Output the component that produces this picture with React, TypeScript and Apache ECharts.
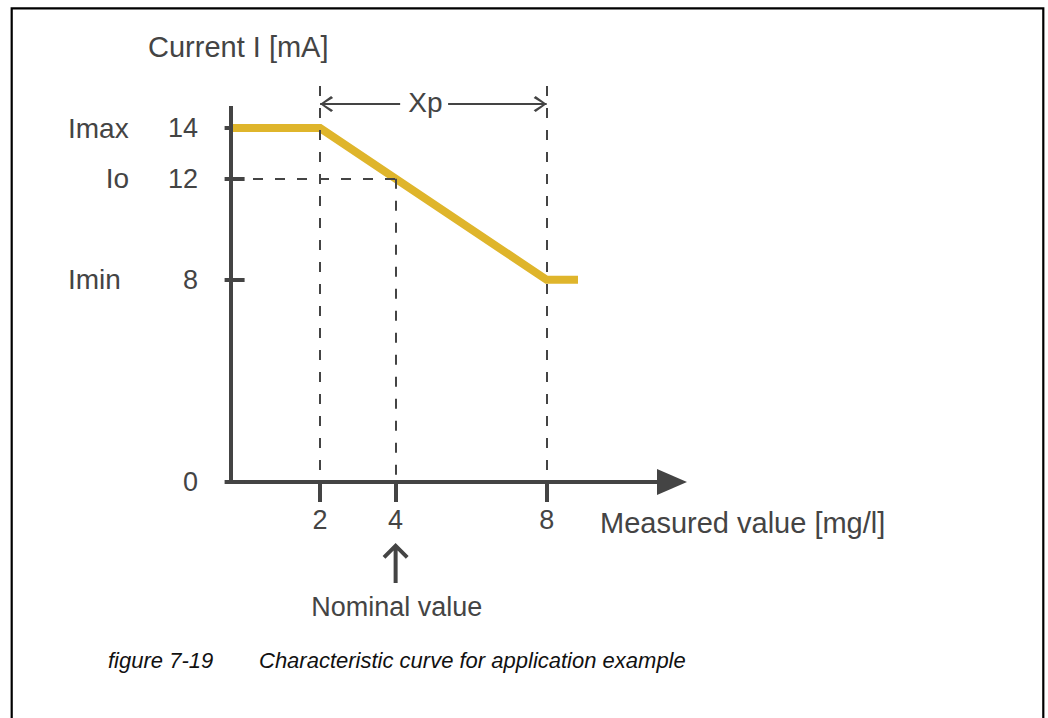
import React, { useEffect, useRef } from 'react';
import * as echarts from 'echarts';

// ---- data ----
const xMin = -0.36;
const xMax = 11.32;
const yMin = 0;
const yMax = 18;
const curveData: [number, number][] = [
  [-0.36, 14],
  [2, 14],
  [8, 8],
  [8.83, 8],
];
const yTickValues = [0, 8, 12, 14];
const xTickValues = [2, 4, 8];
const levelLabels = ['Imax', 'Io', 'Imin'];
const levelValues = [14, 12, 8];
const xpStart = 2;
const xpEnd = 8;
const nominalValue = 4;
const nominalCurrent = 12;
const yAxisTop = 14.87;
const guideTop = 15.67;
const xpLevel = 14.95;

const FONT = "'Liberation Sans', Arial, Helvetica, sans-serif";
const INK = '#444444';
const CURVE = '#DFB52B';

const chevronLeft = 'path://M0,8 L11,0 L13,1.8 L3,8 L13,14.2 L11,16 Z';
const chevronRight = 'path://M13,8 L2,0 L0,1.8 L10,8 L0,14.2 L2,16 Z';
const upArrow = 'path://M13,0 L26,13 L23.2,15.8 L15,7.6 L15,40 L11,40 L11,7.6 L2.8,15.8 L0,13 Z';

export default function App() {
  const ref = useRef<HTMLDivElement>(null);
  useEffect(() => {
    document.body.style.margin = '0';
    if (!ref.current) return;
    const chart = echarts.init(ref.current, null, { renderer: 'svg' });

    const dashed = { type: [10, 12] as any, width: 2, color: INK };
    const solidThin = { type: 'solid' as any, width: 2, color: INK };

    const annotations = [
      { name: 'Current I [mA]', value: [-2.558, 17.21], pos: 'right', size: 29 },
      { name: levelLabels[0], value: [-4.677, levelValues[0]], pos: 'right', size: 28 },
      { name: levelLabels[1], value: [-3.061, levelValues[1]], pos: 'left', size: 28 },
      { name: levelLabels[2], value: [-4.677, levelValues[2]], pos: 'right', size: 28 },
      { name: 'Xp', value: [(xpStart + xpEnd) / 2 - 0.21, 15.03], pos: 'inside', size: 28 },
      { name: 'Measured value [mg/l]', value: [9.413, -1.62], pos: 'right', size: 29 },
      { name: 'Nominal value', value: [nominalValue + 0.03, -4.96], pos: 'inside', size: 27 },
    ];

    chart.setOption({
      animation: false,
      backgroundColor: '#ffffff',
      grid: { left: 231, top: 27, width: 441, height: 455 },
      xAxis: {
        type: 'value',
        min: xMin,
        max: xMax,
        splitLine: { show: false },
        axisLine: {
          show: true,
          onZero: false,
          lineStyle: { color: INK, width: 4 },
          symbol: ['none', 'triangle'],
          symbolSize: [26, 30],
        },
        axisTick: {
          show: true,
          customValues: xTickValues,
          length: 20,
          lineStyle: { color: INK, width: 4 },
        },
        axisLabel: {
          show: true,
          customValues: xTickValues,
          fontSize: 27,
          fontFamily: FONT,
          color: INK,
          margin: 24,
        },
      },
      yAxis: {
        type: 'value',
        min: yMin,
        max: yMax,
        splitLine: { show: false },
        axisLine: { show: false },
        axisTick: {
          show: true,
          customValues: yTickValues,
          length: 20,
          lineStyle: { color: INK, width: 4 },
        },
        axisLabel: {
          show: true,
          customValues: yTickValues,
          fontSize: 27,
          fontFamily: FONT,
          color: INK,
          margin: 33,
        },
      },
      series: [
        {
          type: 'line',
          data: curveData,
          symbol: 'none',
          z: 2,
          lineStyle: { color: CURVE, width: 8, join: 'miter' },
          markLine: {
            silent: true,
            symbol: ['none', 'none'],
            label: { show: false },
            animation: false,
            data: [
              [
                { coord: [xMin, 0], lineStyle: { type: 'solid', width: 4, color: INK } },
                { coord: [xMin, yAxisTop] },
              ],
              [{ coord: [xpStart, guideTop], lineStyle: dashed }, { coord: [xpStart, 0] }],
              [{ coord: [xpEnd, guideTop], lineStyle: dashed }, { coord: [xpEnd, 0] }],
              [{ coord: [nominalValue, nominalCurrent], lineStyle: dashed }, { coord: [nominalValue, 0] }],
              [{ coord: [xMin, nominalCurrent], lineStyle: dashed }, { coord: [nominalValue, nominalCurrent] }],
              [{ coord: [xpStart, xpLevel], lineStyle: solidThin }, { coord: [4.12, xpLevel] }],
              [{ coord: [5.39, xpLevel], lineStyle: solidThin }, { coord: [xpEnd, xpLevel] }],
            ],
          },
        },
        {
          type: 'scatter',
          clip: false,
          z: 6,
          itemStyle: { color: INK, opacity: 1 },
          data: [
            { value: [xpStart, xpLevel], symbol: chevronLeft, symbolSize: [13, 16], symbolOffset: [6.5, 0] },
            { value: [xpEnd, xpLevel], symbol: chevronRight, symbolSize: [13, 16], symbolOffset: [-6.5, 0] },
            { value: [nominalValue, -3.2], symbol: upArrow, symbolSize: [26, 40] },
          ],
          silent: true,
        },
        {
          type: 'scatter',
          clip: false,
          z: 6,
          symbolSize: 0,
          itemStyle: { color: INK, opacity: 1 },
          silent: true,
          data: annotations.map((a) => ({
            name: a.name,
            value: a.value,
            label: {
              show: true,
              position: a.pos,
              distance: 0,
              formatter: '{b}',
              fontFamily: FONT,
              fontSize: a.size,
              color: INK,
              opacity: 1,
            },
          })),
        },
      ],
      graphic: [
        {
          type: 'rect',
          shape: { x: 11.7, y: 8.3, width: 1031.6, height: 730 },
          style: { fill: 'none', stroke: '#000', lineWidth: 2.2 },
          silent: true,
        },
        {
          type: 'text',
          left: 108,
          top: 649,
          style: {
            text: 'figure 7-19',
            fontFamily: FONT,
            fontStyle: 'italic',
            fontSize: 22,
            fill: '#111111',
          },
          silent: true,
        },
        {
          type: 'text',
          left: 259,
          top: 649,
          style: {
            text: 'Characteristic curve for application example',
            fontFamily: FONT,
            fontStyle: 'italic',
            fontSize: 22,
            fill: '#111111',
          },
          silent: true,
        },
      ],
    });
    return () => chart.dispose();
  }, []);
  return <div ref={ref} style={{ width: 1048, height: 718 }} />;
}
